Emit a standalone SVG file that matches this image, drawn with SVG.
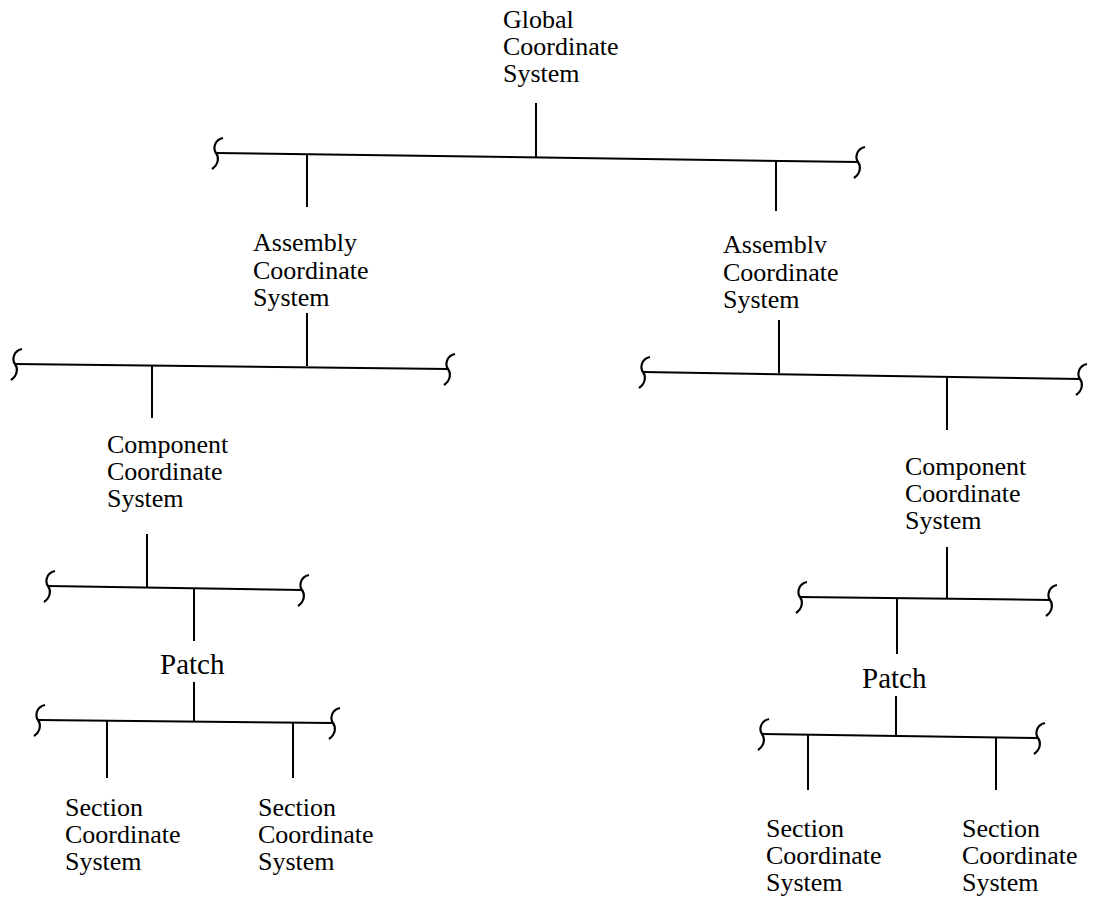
<svg xmlns="http://www.w3.org/2000/svg" width="1111" height="905" viewBox="0 0 1111 905">
<style>
text{font-family:"Liberation Serif","Times New Roman",serif;font-size:26px;fill:#000}
text.p{font-size:29px}
.ln{stroke:#000;stroke-width:2;fill:none}
</style>
<defs>
<path id="sq" d="M7,-15 C-2,-13 -3,-4 0,0 C3,4 3,11 -4,16" stroke="#000" stroke-width="2.2" fill="none"/>
</defs>
<rect width="1111" height="905" fill="#fff"/>
<g id="connectors">
<line class="ln" x1="536" y1="103" x2="536" y2="157"/>
<line class="ln" x1="216" y1="153" x2="858" y2="162"/>
<use href="#sq" x="216" y="153"/><use href="#sq" x="858" y="162"/>
<line class="ln" x1="307" y1="155" x2="307" y2="207"/>
<line class="ln" x1="776" y1="161" x2="776" y2="211"/>

<line class="ln" x1="307" y1="313" x2="307" y2="366"/>
<line class="ln" x1="15" y1="364" x2="448" y2="369"/>
<use href="#sq" x="15" y="364"/><use href="#sq" x="448" y="369"/>
<line class="ln" x1="152" y1="366" x2="152" y2="418"/>

<line class="ln" x1="147" y1="534" x2="147" y2="587"/>
<line class="ln" x1="48" y1="586" x2="302" y2="590"/>
<use href="#sq" x="48" y="586"/><use href="#sq" x="302" y="590"/>
<line class="ln" x1="194" y1="589" x2="194" y2="641"/>

<line class="ln" x1="194" y1="682" x2="194" y2="721"/>
<line class="ln" x1="38" y1="720" x2="333" y2="723"/>
<use href="#sq" x="38" y="720"/><use href="#sq" x="333" y="723"/>
<line class="ln" x1="107" y1="721" x2="107" y2="778"/>
<line class="ln" x1="293" y1="723" x2="293" y2="778"/>

<line class="ln" x1="779" y1="320" x2="779" y2="373"/>
<line class="ln" x1="643" y1="372" x2="1080" y2="379"/>
<use href="#sq" x="643" y="372"/><use href="#sq" x="1080" y="379"/>
<line class="ln" x1="947" y1="377" x2="947" y2="430"/>

<line class="ln" x1="947" y1="547" x2="947" y2="599"/>
<line class="ln" x1="800" y1="597" x2="1050" y2="600"/>
<use href="#sq" x="800" y="597"/><use href="#sq" x="1050" y="600"/>
<line class="ln" x1="897" y1="598" x2="897" y2="654"/>

<line class="ln" x1="896" y1="696" x2="896" y2="736"/>
<line class="ln" x1="762" y1="734" x2="1038" y2="738"/>
<use href="#sq" x="762" y="734"/><use href="#sq" x="1038" y="738"/>
<line class="ln" x1="808" y1="735" x2="808" y2="790"/>
<line class="ln" x1="996" y1="737" x2="996" y2="790"/>
</g>
<g id="global"><text x="503" y="28"><tspan x="503">Global</tspan><tspan x="503" dy="27">Coordinate</tspan><tspan x="503" dy="27">System</tspan></text></g>
<g id="assembly-left"><text x="253" y="251"><tspan x="253">Assembly</tspan><tspan x="253" dy="28">Coordinate</tspan><tspan x="253" dy="27">System</tspan></text></g>
<g id="assembly-right"><text x="723" y="253"><tspan x="723">Assemblv</tspan><tspan x="723" dy="28">Coordinate</tspan><tspan x="723" dy="27">System</tspan></text></g>
<g id="component-left"><text x="107" y="453"><tspan x="107">Component</tspan><tspan x="107" dy="27">Coordinate</tspan><tspan x="107" dy="27">System</tspan></text></g>
<g id="component-right"><text x="905" y="475"><tspan x="905">Component</tspan><tspan x="905" dy="27">Coordinate</tspan><tspan x="905" dy="27">System</tspan></text></g>
<g id="patch-left"><text class="p" x="160" y="674">Patch</text></g>
<g id="patch-right"><text class="p" x="862" y="688">Patch</text></g>
<g id="section-l1"><text x="65" y="816"><tspan x="65">Section</tspan><tspan x="65" dy="27">Coordinate</tspan><tspan x="65" dy="27">System</tspan></text></g>
<g id="section-l2"><text x="258" y="816"><tspan x="258">Section</tspan><tspan x="258" dy="27">Coordinate</tspan><tspan x="258" dy="27">System</tspan></text></g>
<g id="section-r1"><text x="766" y="837"><tspan x="766">Section</tspan><tspan x="766" dy="27">Coordinate</tspan><tspan x="766" dy="27">System</tspan></text></g>
<g id="section-r2"><text x="962" y="837"><tspan x="962">Section</tspan><tspan x="962" dy="27">Coordinate</tspan><tspan x="962" dy="27">System</tspan></text></g>
</svg>
